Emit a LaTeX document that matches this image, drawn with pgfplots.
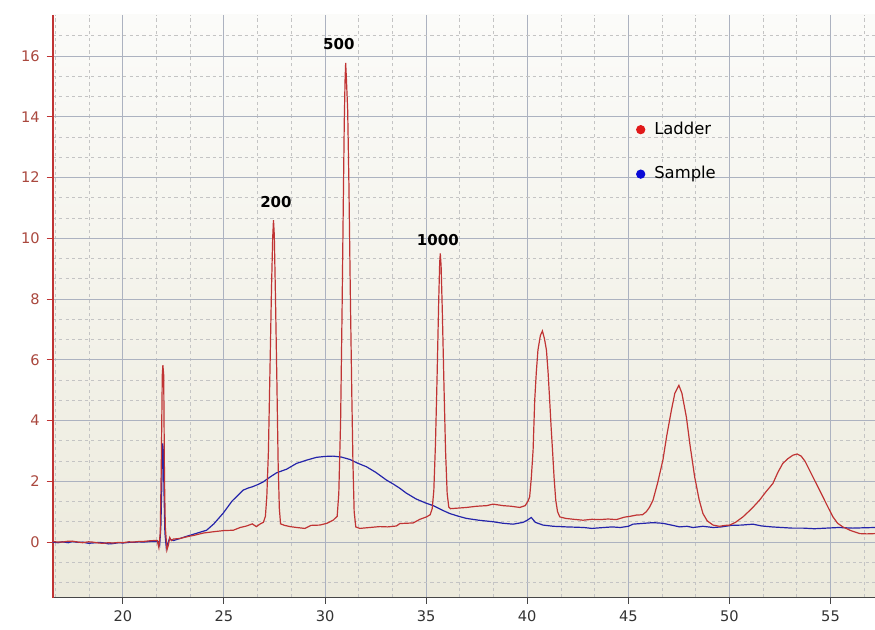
\documentclass[border=0pt]{standalone}
\usepackage{pgfplots}
\pgfplotsset{compat=1.18}
\usepackage{fontspec}
\setmainfont{DejaVu Sans}
\definecolor{ladder}{RGB}{192,52,52}
\definecolor{sample}{RGB}{36,36,170}
\definecolor{ladderdot}{RGB}{225,25,25}
\definecolor{sampledot}{RGB}{10,10,215}
\definecolor{ylab}{RGB}{170,72,62}
\definecolor{majgrid}{RGB}{172,178,192}
\definecolor{mingrid}{RGB}{196,196,196}
\definecolor{bgtop}{RGB}{251,251,249}
\definecolor{bgbot}{RGB}{236,234,220}
\definecolor{xaxis}{RGB}{70,70,70}
\begin{document}
\begin{tikzpicture}
\path[use as bounding box] (0,0) rectangle (437.5pt,315pt);
\begin{axis}[
  at={(26.35pt,16.15pt)}, anchor=south west,
  scale only axis, width=411.15pt, height=291.35pt,
  xmin=16.53, xmax=57.2, ymin=-1.83, ymax=17.35,
  axis lines=left, axis line style={-},
  x axis line style={draw=xaxis, line width=0.6pt},
  y axis line style={draw=ladder, line width=0.8pt},
  xtick={20,25,...,55}, ytick={0,2,...,16},
  minor xtick={16.667,18.333,21.667,23.333,26.667,28.333,31.667,33.333,36.667,38.333,41.667,43.333,46.667,48.333,51.667,53.333,56.667},
  minor ytick={-1.333,-0.667,0.667,1.333,2.667,3.333,4.667,5.333,6.667,7.333,8.667,9.333,10.667,11.333,12.667,13.333,14.667,15.333,16.667},
  grid=both,
  major grid style={draw=majgrid, line width=0.5pt},
  minor grid style={draw=mingrid, line width=0.35pt, dash pattern=on 1.6pt off 1.6pt},
  tick align=outside, major tick length=3pt, minor tick length=0pt,
  y tick style={draw=ladder, line width=0.5pt},
  x tick style={draw=xaxis, line width=0.5pt},
  yticklabel style={ylab, font=\fontsize{7.3}{8}\selectfont},
  xticklabel style={black!80, font=\fontsize{7.3}{8}\selectfont},
  /pgf/number format/assume math mode=true,
  axis background/.style={top color=bgtop, bottom color=bgbot},
  legend style={at={(0.709,0.824)}, anchor=north west, draw=none, fill=none,
    font=\fontsize{8.2}{9}\selectfont, row sep=10.5pt, inner sep=0pt},
  legend cell align=left,
  reverse legend,
]
% Sample (blue)
\addplot[sample, line width=0.6pt,
  legend image code/.code={\fill[sampledot] (0,0) circle (2pt); \path[draw=none,fill=none] (-2pt,0) -- (4.8pt,0);}] coordinates {
(16.5,0.00) (16.8,-0.02) (17.0,0.01) (17.3,-0.02) (17.5,0.02) (17.8,-0.01) (18.0,0.00) (18.3,-0.04) (18.5,-0.03)
(18.8,-0.01) (19.0,-0.02) (19.3,-0.06) (19.5,-0.05) (19.8,-0.02) (20.0,-0.03) (20.3,-0.01) (20.5,-0.01) (20.8,0.01)
(21.0,0.00) (21.3,0.02) (21.5,0.03) (21.75,0.02) (21.82,-0.10) (21.88,0.50) (21.93,2.00) (21.97,3.25) (22.00,3.00)
(22.04,1.50) (22.08,0.30) (22.15,-0.20) (22.22,-0.05) (22.30,0.10) (22.5,0.05) (22.83,0.12) (23.2,0.20) (23.6,0.28)
(24.14,0.39) (24.5,0.60) (24.96,0.95) (25.4,1.35) (25.95,1.71) (26.2,1.78) (26.4,1.82) (26.7,1.90) (26.94,1.98)
(27.3,2.15) (27.6,2.28) (28.1,2.40) (28.59,2.59) (29.1,2.70) (29.58,2.79) (30.0,2.82) (30.4,2.83) (30.8,2.80)
(31.23,2.72) (31.6,2.60) (32.05,2.48) (32.5,2.30) (33.04,2.04) (33.4,1.90) (33.7,1.77) (34.0,1.62) (34.5,1.42)
(35.0,1.28) (35.35,1.20) (35.8,1.05) (36.17,0.94) (36.6,0.85) (36.99,0.78) (37.6,0.72) (38.31,0.67) (38.8,0.62)
(39.3,0.59) (39.8,0.65) (40.0,0.72) (40.2,0.81) (40.4,0.65) (40.78,0.56) (41.3,0.52) (41.94,0.50) (42.4,0.49)
(42.8,0.48) (43.2,0.45) (43.58,0.47) (44.2,0.50) (44.6,0.48) (45.0,0.52) (45.23,0.59) (45.8,0.62) (46.22,0.64)
(46.7,0.62) (47.2,0.55) (47.54,0.50) (47.9,0.52) (48.2,0.48) (48.69,0.52) (49.2,0.48) (49.6,0.50) (50.1,0.55)
(50.6,0.56) (51.16,0.59) (51.6,0.53) (52.1,0.50) (52.6,0.48) (53.1,0.46) (53.64,0.46) (54.2,0.44) (54.8,0.46)
(55.4,0.48) (56.1,0.46) (56.6,0.47) (57.2,0.48)
};
\addlegendentry{Sample}
% Ladder (red)
\addplot[ladder, line width=0.6pt,
  legend image code/.code={\fill[ladderdot] (0,0) circle (2pt); \path[draw=none,fill=none] (-2pt,0) -- (4.8pt,0);}] coordinates {
(16.5,0.02) (16.8,0.00) (17.0,0.00) (17.3,0.03) (17.5,0.03) (17.8,0.00) (18.0,-0.02) (18.3,0.01) (18.5,0.00)
(18.8,-0.03) (19.0,-0.04) (19.3,-0.02) (19.5,-0.03) (19.8,-0.01) (20.0,-0.02) (20.3,0.01) (20.5,0.00) (20.8,0.02)
(21.0,0.02) (21.3,0.04) (21.5,0.05) (21.7,0.05) (21.78,-0.18) (21.85,0.30) (21.90,2.50) (21.95,5.50) (21.98,5.82)
(22.02,5.50) (22.06,2.00) (22.10,0.50) (22.18,-0.26) (22.25,-0.10) (22.32,0.15) (22.40,0.05) (22.5,0.10) (22.83,0.12)
(23.2,0.18) (23.5,0.22) (24.0,0.30) (24.47,0.34) (25.0,0.38) (25.46,0.39) (25.8,0.48) (26.12,0.53) (26.4,0.60)
(26.6,0.51) (26.8,0.60) (26.95,0.65) (27.05,0.85) (27.12,1.50) (27.20,3.00) (27.28,5.80) (27.35,8.30) (27.41,10.00)
(27.45,10.60) (27.49,10.10) (27.55,8.00) (27.62,5.20) (27.68,2.60) (27.74,1.10) (27.80,0.60) (28.0,0.55) (28.27,0.51)
(28.6,0.48) (29.0,0.45) (29.3,0.55) (29.74,0.56) (30.1,0.62) (30.4,0.72) (30.6,0.85) (30.68,1.60) (30.77,4.00)
(30.84,7.50) (30.90,11.00) (30.95,13.80) (30.99,15.20) (31.02,15.77) (31.06,15.20) (31.12,14.20) (31.18,11.80)
(31.25,8.20) (31.32,5.00) (31.38,2.60) (31.44,1.00) (31.52,0.50) (31.72,0.45) (32.2,0.48) (32.71,0.51) (33.1,0.50)
(33.53,0.53) (33.7,0.61) (34.0,0.62) (34.36,0.63) (34.69,0.75) (35.02,0.83) (35.20,0.90) (35.30,1.10) (35.38,1.70)
(35.46,3.20) (35.54,5.40) (35.62,7.90) (35.67,9.20) (35.70,9.50) (35.74,9.10) (35.80,7.60) (35.88,5.20) (35.96,3.00)
(36.04,1.60) (36.12,1.15) (36.20,1.10) (36.6,1.12) (36.99,1.14) (37.5,1.18) (38.0,1.20) (38.31,1.25) (38.8,1.20)
(39.2,1.18) (39.63,1.14) (39.9,1.20) (40.04,1.35) (40.12,1.49) (40.20,2.10) (40.29,3.03) (40.37,4.67) (40.45,5.60)
(40.53,6.32) (40.65,6.80) (40.75,6.95) (40.85,6.70) (40.95,6.32) (41.03,5.60) (41.11,4.67) (41.18,3.80) (41.25,3.03)
(41.33,2.10) (41.41,1.38) (41.50,1.00) (41.61,0.83) (41.9,0.78) (42.3,0.75) (42.76,0.72) (43.2,0.75) (43.6,0.74)
(44.0,0.76) (44.41,0.74) (44.8,0.82) (45.1,0.85) (45.4,0.89) (45.7,0.90) (45.89,1.00) (46.05,1.15) (46.22,1.38)
(46.45,1.95) (46.71,2.70) (46.90,3.50) (47.13,4.34) (47.30,4.90) (47.50,5.16) (47.65,4.90) (47.87,4.12) (48.05,3.20)
(48.28,2.15) (48.50,1.40) (48.69,0.94) (48.90,0.70) (49.19,0.56) (49.5,0.52) (49.8,0.55) (50.01,0.56) (50.3,0.65)
(50.67,0.83) (51.1,1.10) (51.49,1.38) (51.8,1.65) (52.15,1.93) (52.4,2.30) (52.64,2.59) (52.9,2.75) (53.14,2.86)
(53.35,2.90) (53.55,2.83) (53.75,2.65) (53.96,2.37) (54.2,2.05) (54.46,1.71) (54.8,1.25) (55.12,0.83) (55.35,0.62)
(55.61,0.50) (56.0,0.38) (56.44,0.28) (56.8,0.27) (57.2,0.28)
};
\addlegendentry{Ladder}
\node[font=\bfseries\fontsize{7.5}{9}\selectfont] at (axis cs:27.57,11.18) {200};
\node[font=\bfseries\fontsize{7.5}{9}\selectfont] at (axis cs:30.68,16.38) {500};
\node[font=\bfseries\fontsize{7.5}{9}\selectfont] at (axis cs:35.58,9.93) {1000};
\node[ylab, font=\fontsize{7.3}{8}\selectfont] at (rel axis cs:-0.042,0.995) {[FU]};
\node[black!80, font=\fontsize{7.3}{8}\selectfont] at (rel axis cs:0.989,-0.033) {[s]};
\end{axis}
\end{tikzpicture}
\end{document}
